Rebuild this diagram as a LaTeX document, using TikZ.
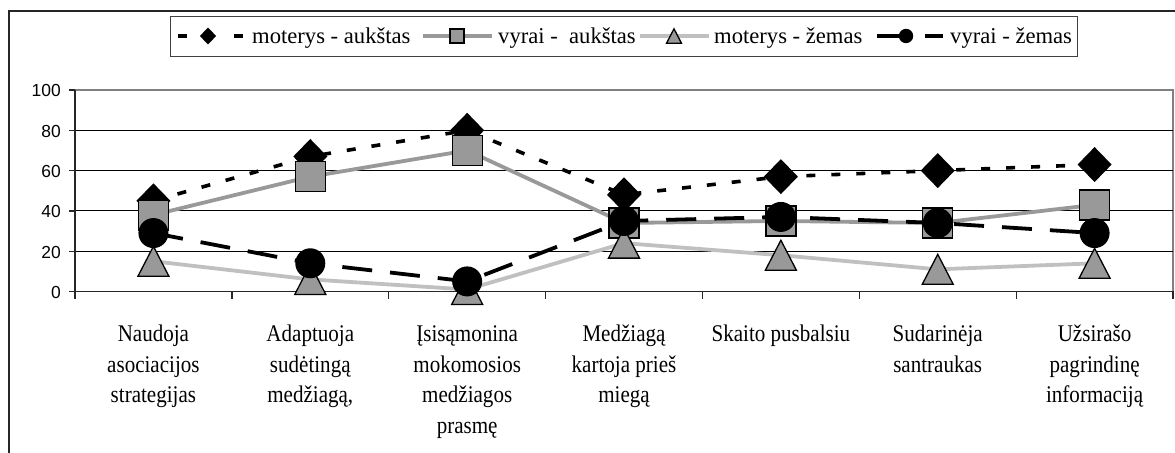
\documentclass[tikz,border=0pt]{standalone}
\usepackage{fontspec}
\setmainfont{Liberation Serif}
\newfontfamily\axisfont{Liberation Sans}
\newfontfamily\catfont[FakeStretch=0.88]{Liberation Serif}
\definecolor{mgray}{HTML}{999999}
\definecolor{lgray}{HTML}{C0C0C0}
\definecolor{bgray}{HTML}{808080}
\tikzset{
  s1line/.style={black, line width=3.6bp, dash pattern=on 9bp off 16bp},
  s2line/.style={mgray, line width=3.8bp, line join=round},
  s3line/.style={lgray, line width=3.8bp, line join=round},
  s4line/.style={black, line width=3.8bp, dash pattern=on 30bp off 18bp},
  diam/.pic={\fill[black] (-17,0) -- (0,-17.5) -- (17,0) -- (0,17.5) -- cycle;},
  sq/.pic={\filldraw[fill=mgray, draw=black, line width=1.3bp] (-15,-15) rectangle (15,15);},
  tri/.pic={\filldraw[fill=mgray, draw=black, line width=1.3bp, line join=miter] (-15.5,15) -- (0,-15) -- (15.5,15) -- cycle;},
  circ/.pic={\fill[black] (0,0) circle[radius=15];},
  legtext/.style={anchor=base west, inner sep=0, font=\fontsize{22.7}{27}\selectfont},
  catlabel/.style={anchor=north, align=center, inner sep=0, font=\fontsize{24}{31}\catfont},
  ylab/.style={anchor=east, inner sep=0, font=\fontsize{17.5}{20}\axisfont},
  grid/.style={black, line width=1.1bp},
  axisline/.style={black!85, line width=1.3bp},
}
\begin{document}
\begin{tikzpicture}[x=1bp,y=-1bp]
\useasboundingbox (0,0) rectangle (1175,453);
% outer frame
\draw[black!85, line width=1.4bp] (9,453) -- (9,11) -- (1175,11);
% legend
\node[draw=black!75, line width=1.3bp, fill=white, minimum width=907bp, minimum height=40bp, inner sep=0, anchor=north west] (legend) at (170,16) {};
\coordinate (l1a) at (178,36); \coordinate (l1b) at (243,36);
\draw[s1line, dash pattern=on 9bp off 47bp] (l1a) -- (l1b);
\pic[scale=0.48] at (208,36) {diam};
\node[legtext] (t1) at (252,44) {moterys - aukštas};
\coordinate (l2a) at (423,36); \coordinate (l2b) at (492,36);
\draw[s2line] (l2a) -- (l2b);
\pic[scale=0.46] at (457,36) {sq};
\node[legtext] (t2) at (498,44) {vyrai -~ aukštas};
\coordinate (l3a) at (640,36); \coordinate (l3b) at (709,36);
\draw[s3line] (l3a) -- (l3b);
\pic[scale=0.48] at (674,36) {tri};
\node[legtext] (t3) at (714,44) {moterys - žemas};
\coordinate (l4a) at (877,36); \coordinate (l4b) at (943,36);
\draw[s4line] (l4a) -- (l4b);
\pic[scale=0.48] at (906,36) {circ};
\node[legtext] (t4) at (950,44) {vyrai - žemas};
% plot area
\draw[bgray, line width=1.1bp] (75,90) rectangle (1173,291.5);
\foreach \v in {20,40,60,80} {
  \draw[grid] (75,{291.5-2.015*\v}) -- (1173,{291.5-2.015*\v});
}
\foreach \v in {0,20,40,60,80,100} {
  \draw[axisline] (69,{291.5-2.015*\v}) -- (75,{291.5-2.015*\v});
  \node[ylab] (y\v) at (61,{292.5-2.015*\v}) {\v};
}
\draw[axisline] (75,90) -- (75,291.5) -- (1173,291.5);
\foreach \k in {0,...,7} {
  \draw[axisline] ({75+156.86*\k},291.5) -- ({75+156.86*\k},299);
}
% data points
\foreach \v [count=\i] in {45,67,80,48,57,60,63} {\coordinate (a\i) at ({75+156.86*(\i-0.5)},{291.5-2.015*\v});}
\foreach \v [count=\i] in {38,57,70,34,35,34,43} {\coordinate (b\i) at ({75+156.86*(\i-0.5)},{291.5-2.015*\v});}
\foreach \v [count=\i] in {15,6,1,24,18,11,14} {\coordinate (c\i) at ({75+156.86*(\i-0.5)},{291.5-2.015*\v});}
\foreach \v [count=\i] in {29,14,5,35,37,34,29} {\coordinate (d\i) at ({75+156.86*(\i-0.5)},{291.5-2.015*\v});}
% series 1
\draw[s1line] (a1) -- (a2) -- (a3) -- (a4) -- (a5) -- (a6) -- (a7);
\foreach \i in {1,...,7} {\pic at (a\i) {diam};}
% series 2
\draw[s2line] (b1) -- (b2) -- (b3) -- (b4) -- (b5) -- (b6) -- (b7);
\foreach \i in {1,...,7} {\pic at (b\i) {sq};}
% series 3
\draw[s3line] (c1) -- (c2) -- (c3) -- (c4) -- (c5) -- (c6) -- (c7);
\foreach \i in {1,...,7} {\pic at (c\i) {tri};}
% series 4
\draw[s4line] (d1) -- (d2) -- (d3) -- (d4) -- (d5) -- (d6) -- (d7);
\foreach \i in {1,...,7} {\pic at (d\i) {circ};}
% category labels
\node[catlabel] (k1) at (153.4,319.3) {\strut Naudoja\\asociacijos\\strategijas};
\node[catlabel] (k2) at (310.3,319.3) {\strut Adaptuoja\\sudėtingą\\medžiagą,};
\node[catlabel] (k3) at (467.2,319.3) {\strut Įsisąmonina\\mokomosios\\medžiagos\\prasmę};
\node[catlabel] (k4) at (624.0,319.3) {\strut Medžiagą\\kartoja prieš\\miegą};
\node[catlabel] (k5) at (780.9,319.3) {\strut Skaito pusbalsiu};
\node[catlabel] (k6) at (937.7,319.3) {\strut Sudarinėja\\santraukas};
\node[catlabel] (k7) at (1094.6,319.3) {\strut Užsirašo\\pagrindinę\\informaciją};
\end{tikzpicture}
\end{document}
